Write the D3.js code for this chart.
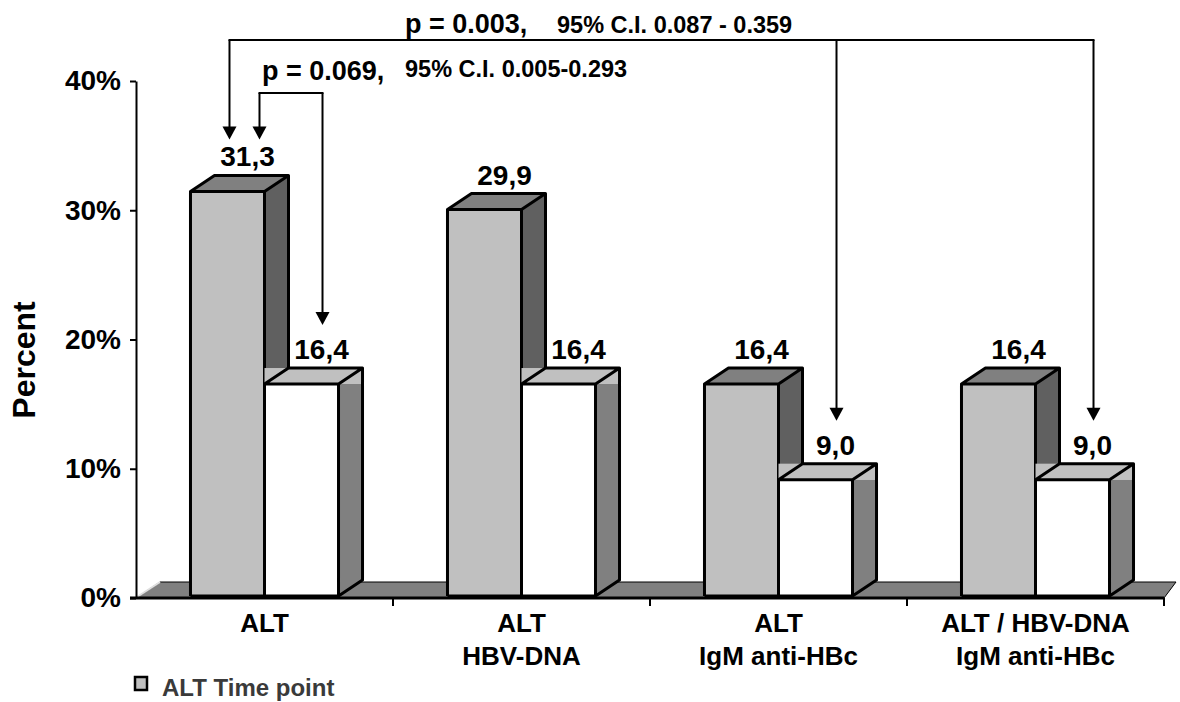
<!DOCTYPE html>
<html>
<head>
<meta charset="utf-8">
<script src="https://cdn.jsdelivr.net/npm/d3@7"></script>
<style>
body { margin: 0; background: #fff; }
svg { display: block; font-family: 'Liberation Sans', Arial, sans-serif; font-weight: bold; }
</style>
</head>
<body>
<svg width="1180" height="702"></svg>
<script>
// data
const categoryLine1 = ['ALT', 'ALT', 'ALT', 'ALT / HBV-DNA']
const categoryLine2 = ['', 'HBV-DNA', 'IgM anti-HBc', 'IgM anti-HBc']
const seriesNames = ['ALT Time point', 'Comparison']
const altTimePoint = [31.3, 29.9, 16.4, 16.4]
const comparison = [16.4, 16.4, 9.0, 9.0]
const yTicks = [0, 10, 20, 30, 40]
const pLabels = ['p = 0.069,', 'p = 0.003,']
const ciLabels = ['95% C.I. 0.005-0.293', '95% C.I. 0.087 - 0.359']
const testTargets = [[0], [2, 3]]   // categories whose 2nd bar the arrows point to

const svg = d3.select('svg')
const left = 136, right = 1164, base = 598
const depthX = 24, depthY = 16

const x = d3.scaleBand()
    .domain(d3.range(categoryLine1.length))
    .range([left, right])
    .paddingInner(0.424)
    .paddingOuter(0.212)
const xSub = d3.scaleBand()
    .domain([0, 1])
    .range([0, x.bandwidth()])
const y = d3.scaleLinear()
    .domain([0, 40])
    .range([base, 81])

const colors = [
    { front: '#c0c0c0', top: '#808080', side: '#606060' },
    { front: '#ffffff', top: '#c0c0c0', side: '#808080' }
]
const fmt = v => d3.format('.1f')(v).replace('.', ',')
const line = d3.line()

// floor
svg.append('path')
    .attr('d', line([[left, base], [right, base], [right + 12, base - depthY], [left + depthX, base - depthY]]) + 'Z')
    .style('fill', '#808080')
    .style('stroke', '#000')
    .style('stroke-width', 1)
svg.append('line')
    .attr('x1', left + 1).attr('y1', base - 1)
    .attr('x2', left + depthX).attr('y2', base - depthY)
    .style('stroke', '#e0e0e0')
    .style('stroke-width', 2)

// bars
const bars = []
categoryLine1.forEach(function (c, i) {
    [altTimePoint[i], comparison[i]].forEach(function (v, s) {
        const x0 = x(i) + xSub(s)
        const x1 = x0 + xSub.bandwidth()
        bars.push({ i: i, s: s, v: v, x0: x0, x1: x1, yt: y(v) - 2, yb: base - 2 })
    })
})

const g = svg.append('g')
bars.forEach(function (b) {
    const c = colors[b.s]
    const bar = g.append('g')
    if (b.s === 1) {
        bar.append('rect')
            .attr('x', b.x0).attr('y', b.yt - depthY)
            .attr('width', b.x1 + depthX - b.x0).attr('height', depthY)
            .style('fill', c.top)
        bar.append('path')
            .attr('d', line([[b.x1, b.yt], [b.x1 + depthX, b.yt], [b.x1 + depthX, b.yb - depthY], [b.x1, b.yb]]) + 'Z')
            .style('fill', c.side)
    } else {
        bar.append('path')
            .attr('d', line([[b.x0, b.yt], [b.x1, b.yt], [b.x1 + depthX, b.yt - depthY], [b.x0 + depthX, b.yt - depthY]]) + 'Z')
            .style('fill', c.top)
        bar.append('path')
            .attr('d', line([[b.x1, b.yt], [b.x1 + depthX, b.yt - depthY], [b.x1 + depthX, b.yb - depthY], [b.x1, b.yb]]) + 'Z')
            .style('fill', c.side)
    }
    bar.append('rect')
        .attr('x', b.x0).attr('y', b.yt)
        .attr('width', b.x1 - b.x0).attr('height', b.yb - b.yt)
        .style('fill', c.front)
    // outlines
    bar.append('path')
        .attr('d', line([[b.x0, b.yb], [b.x0, b.yt], [b.x0 + depthX, b.yt - depthY], [b.x1 + depthX, b.yt - depthY],
            [b.x1 + depthX, b.yb - depthY], [b.x1, b.yb], [b.x0, b.yb]]) +
            'M' + [b.x0, b.yt] + 'L' + [b.x1, b.yt] + 'L' + [b.x1 + depthX, b.yt - depthY] +
            'M' + [b.x1, b.yt] + 'L' + [b.x1, b.yb])
        .style('fill', 'none')
        .style('stroke', '#000')
        .style('stroke-width', 3)
        .style('stroke-linejoin', 'round')
})

// value labels
svg.append('g').selectAll('text')
    .data(bars)
    .enter()
    .append('text')
    .attr('x', d => (d.x0 + d.x1) / 2 + 20)
    .attr('y', d => d.yt - depthY - 9)
    .attr('text-anchor', 'middle')
    .style('font-size', '28px')
    .text(d => fmt(d.v))

// y axis
const yAxis = d3.axisLeft(y)
    .tickValues(yTicks)
    .tickSize(6)
    .tickSizeOuter(0)
    .tickPadding(9)
    .tickFormat(d => d + '%')
const ya = svg.append('g')
    .attr('transform', `translate(${left},0)`)
    .call(yAxis)
ya.selectAll('text')
    .style('font-size', '28px')
    .style('font-family', "'Liberation Sans', Arial, sans-serif")
    .style('font-weight', 'bold')
    .attr('fill', '#000')
ya.selectAll('line, path').style('stroke', '#000').style('stroke-width', 2)

// x axis
svg.append('line')
    .attr('x1', left - 6).attr('x2', right)
    .attr('y1', base).attr('y2', base)
    .style('stroke', '#000').style('stroke-width', 3)
svg.append('g').selectAll('line')
    .data(d3.range(1, categoryLine1.length + 1))
    .enter()
    .append('line')
    .attr('x1', d => left + d * x.step())
    .attr('x2', d => left + d * x.step())
    .attr('y1', base)
    .attr('y2', base + 8)
    .style('stroke', '#000').style('stroke-width', 2)

const cats = svg.append('g').selectAll('text')
    .data(categoryLine1)
    .enter()
    .append('text')
    .attr('text-anchor', 'middle')
    .style('font-size', '26px')
cats.append('tspan')
    .attr('x', (d, i) => x(i) + x.bandwidth() / 2)
    .attr('y', 632)
    .text(d => d)
cats.append('tspan')
    .attr('x', (d, i) => x(i) + x.bandwidth() / 2)
    .attr('y', 665)
    .text((d, i) => categoryLine2[i])

// y title
svg.append('text')
    .attr('transform', 'translate(35,360) rotate(-90)')
    .attr('text-anchor', 'middle')
    .style('font-size', '32px')
    .text('Percent')

// legend
svg.append('rect')
    .attr('x', 135).attr('y', 677)
    .attr('width', 12).attr('height', 13)
    .style('fill', colors[0].front)
    .style('stroke', '#000')
    .style('stroke-width', 2.5)
svg.append('text')
    .attr('x', 162).attr('y', 696)
    .style('font-size', '24px')
    .style('fill', '#3a3a3a')
    .text(seriesNames[0])

// significance brackets
const bracketY = [93, 40]
const fromOffset = [32, 2]
const pX = [262, 405], pY = [80, 33]
const ciX = [405, 557], ciY = [77, 33]
const barAt = (i, s) => bars.find(b => b.i === i && b.s === s)
const tipOf = b => b.yt - depthY - 9 - (b.s === 0 ? 27 : 34)

function arrow(xp, yTop, yTip) {
    svg.append('line')
        .attr('x1', xp).attr('x2', xp)
        .attr('y1', yTop).attr('y2', yTip - 12)
        .style('stroke', '#000').style('stroke-width', 2)
    svg.append('path')
        .attr('d', line([[xp - 7, yTip - 13], [xp + 7, yTip - 13], [xp, yTip]]) + 'Z')
        .style('fill', '#000')
}

testTargets.forEach(function (targets, t) {
    const from = barAt(0, 0)
    const fx = (from.x0 + from.x1) / 2 + fromOffset[t]
    arrow(fx, bracketY[t], tipOf(from))
    let lastX = fx
    targets.forEach(function (ci) {
        const to = barAt(ci, 1)
        const tx = (to.x0 + to.x1) / 2 + 21
        arrow(tx, bracketY[t], tipOf(to))
        lastX = Math.max(lastX, tx)
    })
    svg.append('line')
        .attr('x1', fx - 1).attr('x2', lastX + 1)
        .attr('y1', bracketY[t]).attr('y2', bracketY[t])
        .style('stroke', '#000').style('stroke-width', 2)
    svg.append('text')
        .attr('x', pX[t]).attr('y', pY[t])
        .style('font-size', '27px')
        .text(pLabels[t])
    svg.append('text')
        .attr('x', ciX[t]).attr('y', ciY[t])
        .style('font-size', '23.5px')
        .text(ciLabels[t])
})
</script>
</body>
</html>
